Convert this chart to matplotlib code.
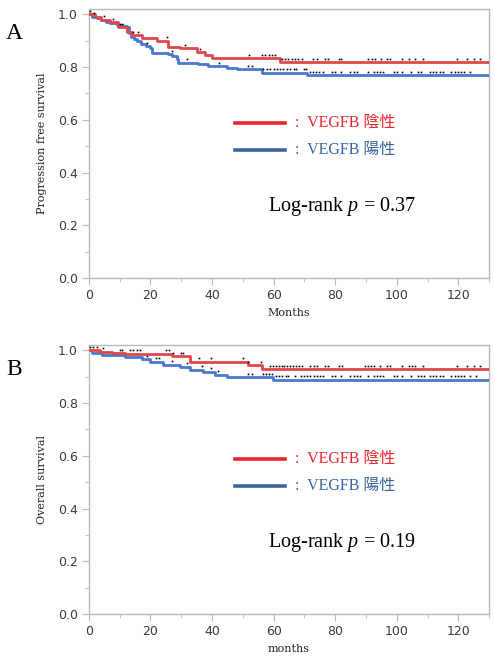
import numpy as np
import matplotlib.pyplot as plt
from matplotlib.ticker import MultipleLocator

plt.rcParams["mathtext.fontset"] = "custom"
plt.rcParams["mathtext.it"] = "Liberation Serif:italic"
plt.rcParams["mathtext.rm"] = "Liberation Serif"

# ── Panel A: progression free survival (step curves) ──
pfs_neg_t = [0, 2, 4, 6.8, 9.5, 12.3, 13.9, 17.1, 22.0, 25.8, 29.6, 35.0, 37.7, 39.9, 62.1, 130]
pfs_neg_s = [1.0, 0.99, 0.98, 0.971, 0.952, 0.931, 0.92, 0.91, 0.899, 0.877, 0.871, 0.857, 0.845, 0.834, 0.819, 0.819]
pfs_pos_t = [0, 1, 2.5, 4, 5.5, 7, 9, 11, 12.3, 13, 13.8, 14.5, 15.5, 17, 18.5, 19.8,
             20.5, 25.8, 27, 28.5, 29.0, 35.5, 38.8, 44.8, 48.0, 56.2, 70.8, 130]
pfs_pos_s = [1.0, 0.99, 0.985, 0.978, 0.972, 0.966, 0.96, 0.955, 0.95, 0.93, 0.915, 0.905, 0.897,
             0.888, 0.88, 0.872, 0.855, 0.848, 0.84, 0.832, 0.817, 0.81, 0.803, 0.798, 0.792,
             0.779, 0.769, 0.769]
pfs_neg_cens = [0.5, 5.0, 7.9, 10.1, 10.9, 14.4, 16.0, 25.3, 31.2, 36.1,
                52.0, 56.2, 57.3, 58.4, 59.5, 60.6,
                62.7, 63.7, 64.8, 65.9, 66.9, 68.0, 69.2, 72.9, 74.0, 76.7, 77.8, 81.1, 81.9,
                90.8, 91.9, 93.0, 94.9, 96.8, 97.9, 101.7, 103.9, 106.0, 108.7,
                119.5, 122.8, 125.0, 126.9]
pfs_pos_cens = [1.5, 18.8, 26.9, 31.8, 42.1, 51.8, 52.9,
                56.7, 57.8, 58.9, 60.0, 61.1, 62.1, 63.2, 64.3, 65.4, 66.5, 67.3, 69.9, 70.5,
                71.7, 72.7, 73.8, 74.9, 76.0, 78.9, 80.0, 81.9, 84.9, 86.0, 87.1, 90.8,
                92.5, 93.6, 94.6, 95.7, 99.0, 100.0, 101.8, 104.7, 106.8, 107.9,
                110.7, 111.8, 112.8, 113.9, 115.0, 117.7, 118.8, 119.9, 120.9, 121.7, 123.9]

# ── Panel B: overall survival ──
os_neg_t = [0, 3.6, 7.4, 11.7, 26.9, 32.8, 51.8, 56.2, 130]
os_neg_s = [1.0, 0.994, 0.99, 0.987, 0.977, 0.956, 0.943, 0.928, 0.928]
os_pos_t = [0, 1.0, 4.1, 11.7, 17.1, 19.8, 24.2, 29.6, 32.8, 37.2, 41.0, 44.8, 59.9, 130]
os_pos_s = [1.0, 0.99, 0.981, 0.975, 0.966, 0.957, 0.946, 0.937, 0.927, 0.918, 0.908,
            0.897, 0.889, 0.889]
os_neg_cens = [0.3, 1.4, 2.5, 4.7, 10.1, 10.9, 13.3, 14.4, 15.5, 16.6, 25.0, 26.1, 27.2,
               29.8, 30.7, 35.9, 39.7, 49.9, 51.8, 55.8,
               58.9, 59.8, 60.7, 61.6, 62.6, 63.5, 64.4, 65.3, 66.3, 67.2, 68.2, 69.2,
               71.9, 73.0, 74.1, 76.7, 77.8, 81.1, 82.2, 89.8, 90.7, 91.6, 92.5, 94.6,
               96.8, 97.9, 101.7, 103.9, 104.9, 106.0, 108.7, 119.5, 122.8, 125.0, 126.9]
os_pos_cens = [18.8, 21.8, 22.9, 26.9, 31.8, 36.7, 39.7, 41.9, 51.8, 52.9,
               56.7, 57.6, 58.4, 59.4,
               60.8, 61.8, 62.8, 63.9, 64.8, 66.8, 68.8, 69.8, 70.9, 71.9, 73.0, 74.0,
               75.0, 76.0, 78.9, 80.0, 81.9, 84.9, 86.0, 87.1, 88.1, 90.8, 92.5, 93.6,
               94.6, 95.7, 99.0, 100.0, 101.8, 104.7, 106.8, 107.9, 108.9,
               110.7, 111.8, 112.8, 113.9, 115.0, 117.7, 118.8, 119.9, 120.9, 121.7,
               123.9, 125.9]

panels = [
    ("A", "Progression free survival", "Months", "0.37",
     (pfs_neg_t, pfs_neg_s, pfs_neg_cens), (pfs_pos_t, pfs_pos_s, pfs_pos_cens)),
    ("B", "Overall survival", "months", "0.19",
     (os_neg_t, os_neg_s, os_neg_cens), (os_pos_t, os_pos_s, os_pos_cens)),
]

RED = "#e0474c"
BLUE = "#4a78d0"
LEG_RED = "#e8262b"
LEG_BLUE = "#3d64a0"
GRID = "#b8b8b8"
SERIF = ["Liberation Serif", "DejaVu Serif"]
JP = ["Liberation Serif", "Noto Sans CJK JP"]

fig = plt.figure(figsize=(4.94, 6.63), dpi=100)
boxes = [[0.180, 0.5807, 0.810, 0.4057], [0.180, 0.0739, 0.810, 0.4057]]


def censor_y(t, s, c):
    idx = np.searchsorted(t, c, side="right") - 1
    return np.asarray(s)[idx] + 0.013


for (letter, ylab, xlab, pval, neg, pos), box in zip(panels, boxes):
    ax = fig.add_axes(box)
    for (t, s, c), col in [(pos, BLUE), (neg, RED)]:
        ax.step(t, s, where="post", color=col, lw=2.0, zorder=3)
        ax.plot(c, censor_y(t, s, c), ls="none", marker="s", ms=1.2, mew=0,
                color="black", zorder=4)

    ax.set_xlim(0, 130)
    ax.set_ylim(0, 1.02)
    ax.xaxis.set_major_locator(MultipleLocator(20))
    ax.xaxis.set_minor_locator(MultipleLocator(10))
    ax.yaxis.set_major_locator(MultipleLocator(0.2))
    ax.yaxis.set_minor_locator(MultipleLocator(0.1))
    ax.yaxis.set_major_formatter(plt.FuncFormatter(lambda v, p: f"{v:.1f}"))
    for sp in ax.spines.values():
        sp.set_color(GRID)
        sp.set_linewidth(1.0)
    ax.tick_params(which="major", length=5, color=GRID, labelsize=9,
                   labelcolor="#3a3a3a", pad=3)
    ax.tick_params(which="minor", length=3, color=GRID)

    ax.set_ylabel(ylab, family="DejaVu Serif", fontsize=8, labelpad=8, color="#222222")
    ax.set_xlabel(xlab, family="DejaVu Serif", fontsize=8, labelpad=4, color="#222222")

    # legend drawn by hand like the original
    ax.plot([0.365, 0.49], [0.576, 0.576], transform=ax.transAxes, color=LEG_RED, lw=2.6)
    ax.plot([0.365, 0.49], [0.476, 0.476], transform=ax.transAxes, color=LEG_BLUE, lw=2.6)
    ax.text(0.515, 0.576, ":  VEGFB 陰性", transform=ax.transAxes, va="center",
            color=LEG_RED, fontsize=11.5, family=JP)
    ax.text(0.515, 0.476, ":  VEGFB 陽性", transform=ax.transAxes, va="center",
            color=LEG_BLUE, fontsize=11.5, family=JP)
    ax.text(0.447, 0.265, "Log-rank $p$ = " + pval, transform=ax.transAxes,
            va="center", fontsize=14.5, family=SERIF)

    fig.text(0.012, box[1] + box[3] - 0.045, letter, fontsize=17, family=SERIF)

fig.savefig("out.png", dpi=100)
